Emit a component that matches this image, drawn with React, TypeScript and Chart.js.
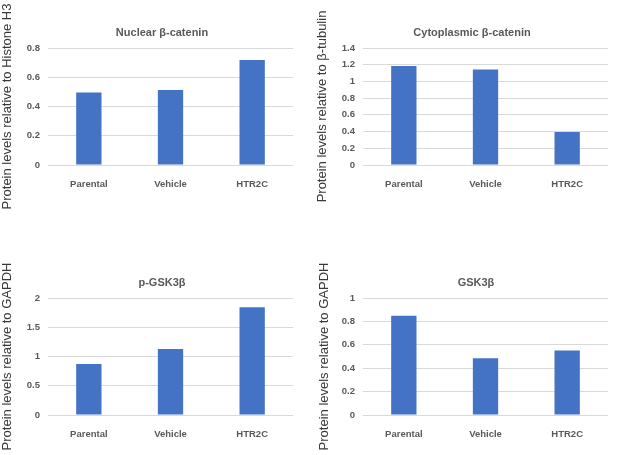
import { useEffect, useRef } from "react"
import { Chart, registerables } from "chart.js"

Chart.register(...registerables)

// Data
const categories = ["Parental", "Vehicle", "HTR2C"]
const nuclearValues = [0.495, 0.513, 0.718]
const cytoplasmicValues = [1.185, 1.142, 0.395]
const pGskValues = [0.87, 1.13, 1.84]
const gskValues = [0.848, 0.486, 0.552]

const panelTitles = ["Nuclear β-catenin", "Cytoplasmic β-catenin", "p-GSK3β", "GSK3β"]
const yTitles = [
  "Protein levels relative to Histone H3",
  "Protein levels relative to β-tubulin",
  "Protein levels relative to GAPDH",
  "Protein levels relative to GAPDH",
]
const yMaxes = [0.8, 1.4, 2, 1]
const ySteps = [0.2, 0.2, 0.5, 0.2]

const FONT = "'Liberation Sans', Arial, sans-serif"
const TEXT = "#595959"
const BLUE = "#4472C4"

type PanelProps = {
  values: number[]
  title: string
  yTitle: string
  yMax: number
  yStep: number
  // layout, all in page pixels
  left: number
  top: number
  height: number
  plotLeft: number
  plotRight: number
  plotTop: number
  plotBottom: number
  titleX: number
  titleY: number
}

function Panel(p: PanelProps) {
  const canvasRef = useRef<HTMLCanvasElement>(null)

  // the title box spans [0, width], so the width sets the title centre
  const width = Math.round((p.titleX - p.left) * 2)
  const yWidth = p.plotLeft - p.left
  const rightWidth = width - (p.plotRight - p.left)
  const titleLine = 11 * 1.2
  const chartTop = p.plotTop - p.top
  const titleCenter = p.titleY - p.top
  const xHeight = 30

  useEffect(() => {
    if (!canvasRef.current) return
    const chart = new Chart(canvasRef.current, {
      type: "bar",
      data: {
        labels: categories,
        datasets: [
          {
            data: p.values,
            backgroundColor: BLUE,
            barPercentage: 0.31,
            categoryPercentage: 1,
          },
        ],
      },
      options: {
        responsive: false,
        animation: false,
        layout: {
          padding: { left: 0, right: 0, top: 0, bottom: p.height - (p.plotBottom - p.top) - xHeight },
        },
        plugins: {
          legend: { display: false },
          tooltip: { enabled: false },
          title: {
            display: true,
            text: p.title,
            color: TEXT,
            font: { family: FONT, size: 11, weight: "bold" },
            padding: {
              top: titleCenter - titleLine / 2,
              bottom: chartTop - titleCenter - titleLine / 2,
            },
          },
        },
        scales: {
          x: {
            grid: { display: false },
            border: { display: false },
            ticks: {
              color: TEXT,
              padding: 6,
              font: { family: FONT, size: 9.5, weight: "bold" },
            },
            afterFit: (scale: any) => {
              scale.height = xHeight
            },
          },
          y: {
            min: 0,
            max: p.yMax,
            grid: { color: "#d9d9d9", drawTicks: false },
            border: { display: false },
            ticks: {
              stepSize: p.yStep,
              color: TEXT,
              padding: 8,
              font: { family: FONT, size: 9.5, weight: "bold" },
              callback: (v: any) => String(Number(Number(v).toFixed(2))),
            },
            title: {
              display: true,
              text: p.yTitle,
              color: "#383838",
              font: { family: FONT, size: 13 },
              padding: { top: 0, bottom: 0 },
            },
            afterFit: (scale: any) => {
              scale.width = yWidth
            },
          },
          // empty right-hand box so the title sits where the original has it
          spacer: {
            type: "linear",
            position: "right",
            grid: { display: false },
            border: { display: false },
            ticks: { display: false },
            afterFit: (scale: any) => {
              scale.width = rightWidth
            },
          },
        },
      },
    } as any)

    return () => {
      chart.destroy()
    }
  }, [])

  return (
    <canvas
      ref={canvasRef}
      width={width}
      height={p.height}
      style={{ position: "absolute", left: p.left, top: p.top, width, height: p.height }}
    />
  )
}

export default function App() {
  return (
    <div
      style={{
        position: "fixed",
        left: 0,
        top: 0,
        width: 617,
        height: 455,
        overflow: "hidden",
        background: "#fff",
      }}
    >
      <Panel
        values={nuclearValues}
        title={panelTitles[0]}
        yTitle={yTitles[0]}
        yMax={yMaxes[0]}
        yStep={ySteps[0]}
        left={0}
        top={0}
        height={225}
        plotLeft={48}
        plotRight={293}
        plotTop={48}
        plotBottom={165}
        titleX={162}
        titleY={33}
      />
      <Panel
        values={cytoplasmicValues}
        title={panelTitles[1]}
        yTitle={yTitles[1]}
        yMax={yMaxes[1]}
        yStep={ySteps[1]}
        left={315}
        top={0}
        height={225}
        plotLeft={363}
        plotRight={608}
        plotTop={48}
        plotBottom={165}
        titleX={472}
        titleY={33}
      />
      <Panel
        values={pGskValues}
        title={panelTitles[2]}
        yTitle={yTitles[2]}
        yMax={yMaxes[2]}
        yStep={ySteps[2]}
        left={0}
        top={230}
        height={225}
        plotLeft={48}
        plotRight={293}
        plotTop={298}
        plotBottom={415}
        titleX={162}
        titleY={283}
      />
      <Panel
        values={gskValues}
        title={panelTitles[3]}
        yTitle={yTitles[3]}
        yMax={yMaxes[3]}
        yStep={ySteps[3]}
        left={317}
        top={230}
        height={225}
        plotLeft={363}
        plotRight={608}
        plotTop={298}
        plotBottom={415}
        titleX={476}
        titleY={283}
      />
    </div>
  )
}
